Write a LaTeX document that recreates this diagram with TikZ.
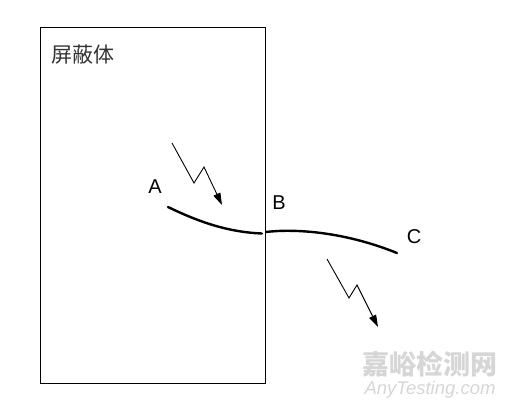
\documentclass[tikz,border=0pt]{standalone}
\usepackage{fontspec}
\setmainfont{Liberation Sans}
\newfontfamily\cjk{Noto Sans CJK SC}
\usetikzlibrary{arrows.meta}
\begin{document}
\begin{tikzpicture}[x=1pt,y=-1pt,
  wire/.style={line width=2.4pt,line cap=round},
  zap/.style={line width=0.9pt,-{Triangle[length=12pt,width=7.5pt]}},
  lbl/.style={font=\fontsize{20}{20}\selectfont,inner sep=0pt}]
\useasboundingbox (0,0) rectangle (512,408);
\draw[line width=1pt] (40,27) rectangle (265,383);
\node[anchor=west,inner sep=0pt,font=\cjk\fontsize{21}{21}\selectfont\color{black!80}] (title) at (51,55) {屏蔽体};
\node[lbl] (A) at (155,187) {A};
\node[lbl] (B) at (279,203) {B};
\node[lbl] (C) at (414,237) {C};
\coordinate (w1s) at (168,207);
\coordinate (w1e) at (262,233.5);
\coordinate (w2s) at (266,232);
\coordinate (w2e) at (397,253);
\draw[wire] (w1s) .. controls (195,220) and (225,232) .. (w1e);
\draw[wire] (w2s) .. controls (290,229) and (340,230) .. (w2e);
\coordinate (z1a) at (172,143);
\coordinate (z1b) at (194,183);
\coordinate (z1c) at (204,167);
\coordinate (z1d) at (222,205);
\draw[zap] (z1a) -- (z1b) -- (z1c) -- (z1d);
\coordinate (z2a) at (327,259);
\coordinate (z2b) at (349,298);
\coordinate (z2c) at (357,285);
\coordinate (z2d) at (378,327);
\draw[zap] (z2a) -- (z2b) -- (z2c) -- (z2d);
\node[inner sep=0pt,font=\cjk\bfseries\fontsize{27}{27}\selectfont,text=black!16] (wm1) at (430,364) {嘉峪检测网};
\node[inner sep=0pt,font=\itshape\fontsize{18.5}{18.5}\selectfont,text=black!16] (wm2) at (430,390) {AnyTesting.com};
\end{tikzpicture}
\end{document}
